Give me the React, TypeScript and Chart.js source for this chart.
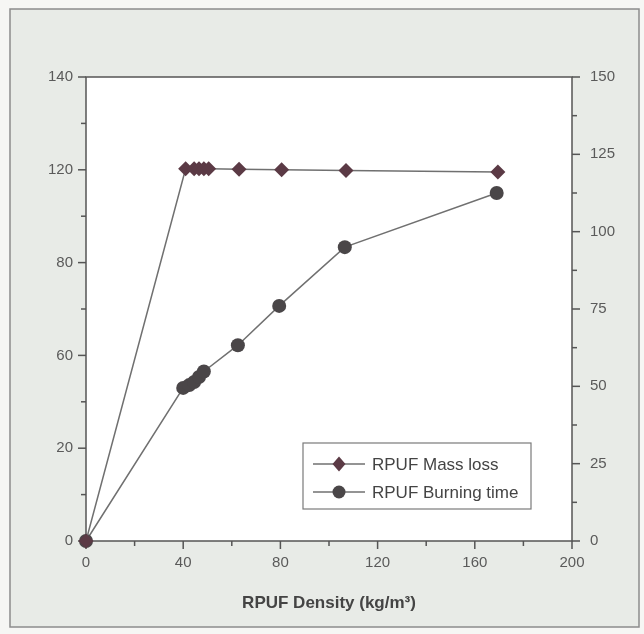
import React, { useEffect, useRef } from 'react';
import { Chart, registerables } from 'chart.js';

Chart.register(...registerables);

// ---- data ----
const MASS_DENSITY = [0, 41, 44.5, 46.5, 48.5, 50.5, 63, 80.5, 107, 169.5];
const MASS_LOSS = [0, 112.3, 112.3, 112.3, 112.3, 112.3, 112.2, 112, 111.8, 111.3];
const BURN_DENSITY = [0, 40, 42.5, 44.5, 46.5, 48.5, 62.5, 79.5, 106.5, 169];
const BURN_TIME = [0, 49.5, 50.4, 51.4, 53, 54.8, 63.3, 76, 95, 112.5];

const SERIES_NAMES = ['RPUF Mass loss', 'RPUF Burning time'];
const LEFT_TICK_LABELS = ['0', '20', '60', '80', '120', '140'];
const RIGHT_TICK_LABELS = ['0', '25', '50', '75', '100', '125', '150'];
const X_TICK_LABELS = ['0', '40', '80', '120', '160', '200'];
const X_TITLE = 'RPUF Density (kg/m\u00B3)';

const FONT = "'Liberation Sans Narrow', 'Liberation Sans', Arial, sans-serif";
const TEXT = '#5a5a5a';
const LINE = '#707070';
const DIAMOND = '#5b3a45';
const CIRCLE = '#4a4648';

const framePlugin = {
  id: 'frame',
  beforeDraw(chart: any) {
    const { ctx, width, height, chartArea: a } = chart;
    ctx.save();
    ctx.fillStyle = '#f6f6f4';
    ctx.fillRect(0, 0, width, height);
    ctx.fillStyle = '#e8ebe7';
    ctx.fillRect(10, 9, 629, 618);
    ctx.strokeStyle = '#8c8c8c';
    ctx.lineWidth = 1.5;
    ctx.strokeRect(10, 9, 629, 618);
    ctx.fillStyle = '#ffffff';
    ctx.fillRect(a.left, a.top, a.right - a.left, a.bottom - a.top);
    ctx.restore();
  },
  beforeDatasetsDraw(chart: any) {
    const { ctx, chartArea: a, scales } = chart;
    ctx.save();
    ctx.strokeStyle = '#555555';
    ctx.lineWidth = 1.5;
    ctx.strokeRect(a.left, a.top, a.right - a.left, a.bottom - a.top);
    const drawTicks = (scale: any, major: number, dir: string) => {
      scale.ticks.forEach((t: any) => {
        const isMajor = Math.abs(t.value / major - Math.round(t.value / major)) < 1e-6;
        const len = isMajor ? 8 : 5;
        const p = scale.getPixelForValue(t.value);
        ctx.beginPath();
        if (dir === 'down') {
          ctx.moveTo(p, a.bottom);
          ctx.lineTo(p, a.bottom + len);
        } else if (dir === 'left') {
          ctx.moveTo(a.left, p);
          ctx.lineTo(a.left - len, p);
        } else {
          ctx.moveTo(a.right, p);
          ctx.lineTo(a.right + len, p);
        }
        ctx.stroke();
      });
    };
    drawTicks(scales.x, 40, 'down');
    drawTicks(scales.y, 28, 'left');
    drawTicks(scales.y1, 25, 'right');
    ctx.restore();
  },
  afterDraw(chart: any) {
    const { ctx } = chart;
    ctx.save();
    const bx = 303, by = 443, bw = 228, bh = 66;
    ctx.fillStyle = '#ffffff';
    ctx.fillRect(bx, by, bw, bh);
    ctx.strokeStyle = '#7a7a7a';
    ctx.lineWidth = 1.2;
    ctx.strokeRect(bx, by, bw, bh);
    const rows = [
      { y: 464, style: 'rectRot', color: DIAMOND, r: 6.5 },
      { y: 492, style: 'circle', color: CIRCLE, r: 6.5 },
    ];
    rows.forEach((row, i) => {
      ctx.strokeStyle = LINE;
      ctx.lineWidth = 1.5;
      ctx.beginPath();
      ctx.moveTo(313, row.y);
      ctx.lineTo(365, row.y);
      ctx.stroke();
      ctx.fillStyle = row.color;
      ctx.beginPath();
      if (row.style === 'rectRot') {
        ctx.moveTo(339, row.y - row.r - 1);
        ctx.lineTo(339 + row.r, row.y);
        ctx.lineTo(339, row.y + row.r + 1);
        ctx.lineTo(339 - row.r, row.y);
        ctx.closePath();
      } else {
        ctx.arc(339, row.y, row.r, 0, Math.PI * 2);
      }
      ctx.fill();
      ctx.fillStyle = '#444444';
      ctx.font = `17px ${FONT}`;
      ctx.textBaseline = 'middle';
      ctx.textAlign = 'left';
      ctx.fillText(SERIES_NAMES[i], 372, row.y + 1);
    });
    ctx.restore();
  },
};

export default function App() {
  const ref = useRef<HTMLCanvasElement>(null);
  useEffect(() => {
    document.body.style.margin = '0';
    const canvas = ref.current;
    if (!canvas) return;
    const chart = new Chart(canvas, {
      type: 'scatter',
      data: {
        datasets: [
          {
            label: SERIES_NAMES[0],
            data: MASS_DENSITY.map((x, i) => ({ x, y: MASS_LOSS[i] })),
            yAxisID: 'y',
            showLine: true,
            borderColor: LINE,
            borderWidth: 1.5,
            backgroundColor: DIAMOND,
            pointBackgroundColor: DIAMOND,
            pointBorderColor: DIAMOND,
            pointBorderWidth: 0,
            pointStyle: 'rectRot',
            pointRadius: 7.5,
            clip: false,
          } as any,
          {
            label: SERIES_NAMES[1],
            data: BURN_DENSITY.map((x, i) => ({ x, y: BURN_TIME[i] })),
            yAxisID: 'y1',
            showLine: true,
            borderColor: LINE,
            borderWidth: 1.5,
            backgroundColor: CIRCLE,
            pointBackgroundColor: CIRCLE,
            pointBorderColor: CIRCLE,
            pointBorderWidth: 0,
            pointStyle: 'circle',
            pointRadius: 7,
            clip: false,
          } as any,
        ],
      },
      options: {
        responsive: false,
        animation: false,
        layout: { padding: { top: 77, left: 0, right: 0, bottom: 0 } },
        plugins: { legend: { display: false }, tooltip: { enabled: false } },
        scales: {
          x: {
            type: 'linear',
            position: 'bottom',
            min: 0,
            max: 200,
            border: { display: false },
            grid: { display: true, drawOnChartArea: false, tickLength: 8, tickColor: 'transparent' },
            ticks: {
              stepSize: 20,
              padding: 5,
              maxRotation: 0,
              autoSkip: false,
              color: TEXT,
              font: { family: FONT, size: 15 },
              callback: (v: any) => (v % 40 === 0 ? X_TICK_LABELS[v / 40] : ''),
            },
            title: {
              display: true,
              text: X_TITLE,
              color: '#444444',
              font: { family: FONT, size: 17, weight: 'bold' },
              padding: { top: 0, bottom: 20 },
            },
            afterFit: (s: any) => { s.height = 93; },
          },
          y: {
            type: 'linear',
            position: 'left',
            min: 0,
            max: 140,
            border: { display: false },
            grid: { display: true, drawOnChartArea: false, tickLength: 8, tickColor: 'transparent' },
            ticks: {
              stepSize: 14,
              padding: 5,
              autoSkip: false,
              color: TEXT,
              font: { family: FONT, size: 15 },
              callback: (v: any) => {
                const k = Math.round(v / 14);
                return k % 2 === 0 ? LEFT_TICK_LABELS[k / 2] : '';
              },
            },
            afterFit: (s: any) => { s.width = 86; },
          },
          y1: {
            type: 'linear',
            position: 'right',
            min: 0,
            max: 150,
            border: { display: false },
            grid: { display: true, drawOnChartArea: false, tickLength: 8, tickColor: 'transparent' },
            ticks: {
              stepSize: 12.5,
              padding: 10,
              autoSkip: false,
              color: TEXT,
              font: { family: FONT, size: 15 },
              callback: (v: any) => {
                const k = Math.round(v / 12.5);
                return k % 2 === 0 ? RIGHT_TICK_LABELS[k / 2] : '';
              },
            },
            afterFit: (s: any) => { s.width = 72; },
          },
        },
      } as any,
      plugins: [framePlugin],
    });
    return () => chart.destroy();
  }, []);
  return <canvas ref={ref} width={644} height={634} style={{ display: 'block' }} />;
}
